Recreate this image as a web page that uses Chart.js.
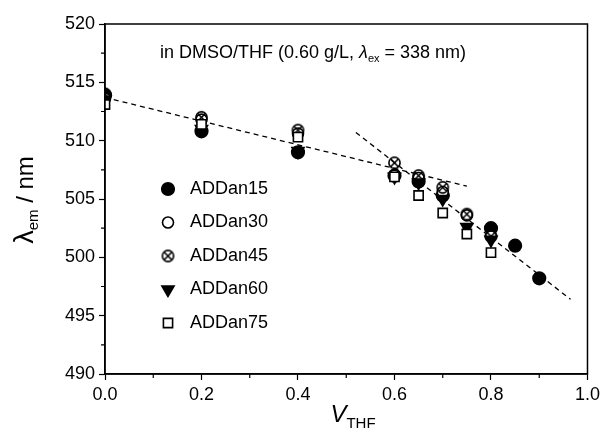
<!DOCTYPE html>
<html>
<head>
<meta charset="utf-8">
<script src="https://cdn.jsdelivr.net/npm/chart.js@4.4.1/dist/chart.umd.min.js"></script>
<style>
  html, body { margin: 0; padding: 0; background: #fff; }
</style>
</head>
<body>
<canvas id="chart" width="604" height="435"></canvas>
<script>
// V_THF values (volume fraction of THF)
const vthfLong = [0, 0.2, 0.4, 0.6, 0.65, 0.7, 0.8, 0.85, 0.9];
const vthf = [0, 0.2, 0.4, 0.6, 0.65, 0.7, 0.75, 0.8];

// emission maxima (nm)
const addan15 = [513.9, 510.8, 509.0, 507.0, 506.5, 505.3, 502.5, 501.0, 498.2];
const addan30 = [513.6, 511.8, 510.6, 507.0, 506.8, 505.6, 503.6, 501.8];
const addan45 = [514.0, 512.0, 510.9, 508.1, 507.0, 506.0, 503.7, 501.8];
const addan60 = [513.5, 511.0, 509.1, 506.9, 506.4, 505.0, 502.6, 501.5];
const addan75 = [513.1, 511.4, 510.3, 506.9, 505.3, 503.8, 502.0, 500.4];

// dashed guide lines (end points)
const fitLowX = [0, 0.75];
const fitLowY = [513.7, 506.1];
const fitHighX = [0.52, 0.965];
const fitHighY = [510.7, 496.4];

const seriesNames = ["ADDan15", "ADDan30", "ADDan45", "ADDan60", "ADDan75"];

function pts(xs, ys) {
    return xs.map((x, i) => ({ x: x, y: ys[i] }));
}

// circle with an X inside, for ADDan45
function crossedCircle() {
    const c = document.createElement("canvas");
    c.width = 15; c.height = 15;
    const g = c.getContext("2d");
    g.strokeStyle = "#000";
    g.lineWidth = 1.6;
    g.beginPath();
    g.arc(7.5, 7.5, 5.6, 0, Math.PI * 2);
    g.stroke();
    const d = 5.6 * Math.SQRT1_2;
    g.beginPath();
    g.moveTo(7.5 - d, 7.5 - d); g.lineTo(7.5 + d, 7.5 + d);
    g.moveTo(7.5 + d, 7.5 - d); g.lineTo(7.5 - d, 7.5 + d);
    g.stroke();
    return c;
}

const markerStyles = [
    { pointStyle: "circle", radius: 6.3, bg: "#000", rot: 0 },
    { pointStyle: "circle", radius: 5.5, bg: "#fff", rot: 0 },
    { pointStyle: crossedCircle(), radius: 6, bg: "#fff", rot: 0 },
    { pointStyle: "triangle", radius: 7, bg: "#000", rot: 180 },
    { pointStyle: "rect", radius: 6.5, bg: "#fff", rot: 0 }
];

const seriesData = [
    pts(vthfLong, addan15),
    pts(vthf, addan30),
    pts(vthf, addan45),
    pts(vthf, addan60),
    pts(vthf, addan75)
];

const datasets = [];
seriesNames.forEach((name, i) => {
    const m = markerStyles[i];
    datasets.push({
        label: name,
        data: seriesData[i],
        pointStyle: m.pointStyle,
        pointRadius: m.radius,
        pointRotation: m.rot,
        pointBackgroundColor: m.bg,
        pointBorderColor: "#000",
        pointBorderWidth: 1.6,
        showLine: false,
        order: 5 - i
    });
});

// guide lines
[[fitLowX, fitLowY], [fitHighX, fitHighY]].forEach(([xs, ys]) => {
    datasets.push({
        label: "fit",
        data: pts(xs, ys),
        showLine: true,
        borderColor: "#000",
        borderWidth: 1.3,
        borderDash: [5, 4],
        pointRadius: 0,
        fill: false,
        order: 10
    });
});

const FONT = "Arial, 'Liberation Sans', sans-serif";

// text with a subscript part
function drawSub(ctx, parts, x, y, align) {
    let w = 0;
    parts.forEach(p => { ctx.font = p.font; w += ctx.measureText(p.t).width; });
    let cx = align === "center" ? x - w / 2 : x;
    parts.forEach(p => {
        ctx.font = p.font;
        ctx.fillText(p.t, cx, y + (p.dy || 0));
        cx += ctx.measureText(p.t).width;
    });
}

const decorPlugin = {
    id: "decor",
    afterDraw(chart) {
        const ctx = chart.ctx;
        const a = chart.chartArea;
        const xs = chart.scales.x, ys = chart.scales.y;
        ctx.save();
        ctx.strokeStyle = "#000";
        ctx.fillStyle = "#000";

        // frame
        ctx.lineWidth = 1.5;
        ctx.strokeRect(a.left, a.top, a.right - a.left, a.bottom - a.top);

        // minor ticks
        ctx.lineWidth = 1.2;
        ctx.beginPath();
        for (let v = 0.1; v < 1; v += 0.2) {
            const px = xs.getPixelForValue(v);
            ctx.moveTo(px, a.bottom); ctx.lineTo(px, a.bottom + 4);
        }
        for (let v = 492.5; v < 520; v += 5) {
            const py = ys.getPixelForValue(v);
            ctx.moveTo(a.left, py); ctx.lineTo(a.left - 4, py);
        }
        ctx.stroke();

        ctx.textBaseline = "alphabetic";
        ctx.textAlign = "left";

        // annotation
        drawSub(ctx, [
            { t: "in DMSO/THF (0.60 g/L, ", font: "18px " + FONT },
            { t: "λ", font: "italic 18px " + FONT },
            { t: "ex", font: "11px " + FONT, dy: 4 },
            { t: " = 338 nm)", font: "18px " + FONT }
        ], 160, 58, "left");

        // x title
        drawSub(ctx, [
            { t: "V", font: "italic 24px " + FONT },
            { t: "THF", font: "15px " + FONT, dy: 6 }
        ], 353, 422, "center");

        // y title
        ctx.save();
        ctx.translate(33, 200);
        ctx.rotate(-Math.PI / 2);
        drawSub(ctx, [
            { t: "λ", font: "27px " + FONT },
            { t: "em", font: "15px " + FONT, dy: 5 },
            { t: " / nm", font: "24px " + FONT }
        ], 0, 0, "center");
        ctx.restore();

        // legend inside the plot
        const lx = 168, tx = 190, y0 = 189, dy = 33.5;
        seriesNames.forEach((name, i) => {
            const m = markerStyles[i];
            const y = y0 + i * dy;
            ctx.fillStyle = m.bg;
            ctx.strokeStyle = "#000";
            ctx.lineWidth = 1.6;
            Chart.helpers.drawPoint(ctx, {
                pointStyle: m.pointStyle,
                radius: m.radius,
                rotation: m.rot,
                borderWidth: 1.6
            }, lx, y);
            ctx.fillStyle = "#000";
            ctx.font = "18px " + FONT;
            ctx.textBaseline = "middle";
            ctx.fillText(name, tx, y);
        });
        ctx.restore();
    }
};

new Chart(document.getElementById("chart"), {
    type: "scatter",
    data: { datasets: datasets },
    options: {
        responsive: false,
        animation: false,
        devicePixelRatio: 1,
        layout: { padding: { top: 24, right: 15, left: 0, bottom: 0 } },
        plugins: {
            legend: { display: false },
            tooltip: { enabled: false }
        },
        scales: {
            x: {
                type: "linear",
                min: 0,
                max: 1,
                ticks: {
                    stepSize: 0.2,
                    color: "#000",
                    padding: 4,
                    font: { size: 18, family: FONT },
                    callback: v => v.toFixed(1)
                },
                grid: { drawOnChartArea: false, tickLength: 6, color: "#000", tickWidth: 1.2 },
                border: { display: true, color: "#000", width: 1.5 },
                afterFit(scale) { scale.height = 61; }
            },
            y: {
                type: "linear",
                min: 490,
                max: 520,
                ticks: {
                    stepSize: 5,
                    color: "#000",
                    padding: 4,
                    font: { size: 18, family: FONT }
                },
                grid: { drawOnChartArea: false, tickLength: 6, color: "#000", tickWidth: 1.2 },
                border: { display: true, color: "#000", width: 1.5 },
                afterFit(scale) { scale.width = 105; }
            }
        }
    },
    plugins: [decorPlugin]
});
</script>
</body>
</html>
